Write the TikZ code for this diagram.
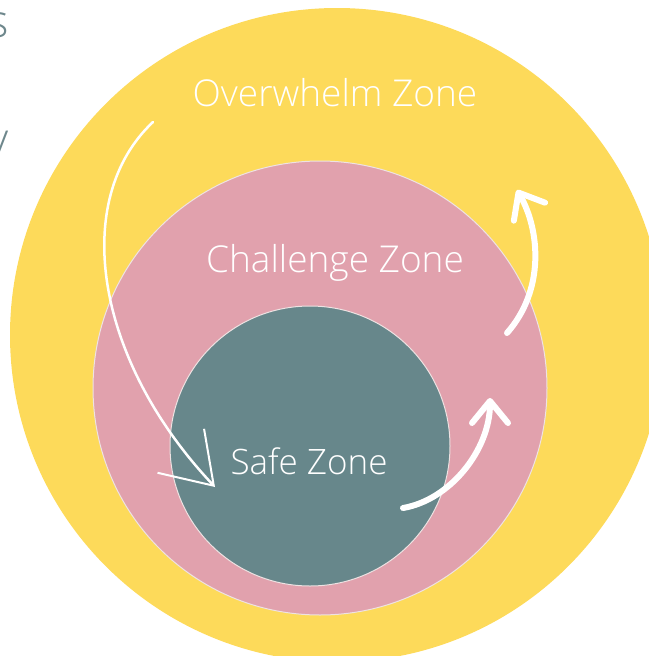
\documentclass[tikz,border=0pt]{standalone}
\usepackage{fontspec}
\setmainfont{Open Sans}[UprightFont=* Light]
\definecolor{overwhelm}{RGB}{253, 218, 90}
\definecolor{challenge}{RGB}{225, 161, 173}
\definecolor{safe}{RGB}{103, 135, 139}
\definecolor{rim}{RGB}{238, 226, 226}
\definecolor{sidetext}{RGB}{110, 135, 140}
\usetikzlibrary{arrows.meta, positioning}

\begin{document}
\begin{tikzpicture}[x=1pt, y=-1pt,
    zone/.style={circle, draw=rim, line width=1pt, inner sep=0pt},
    zonelabel/.style={text=white, font=\fontsize{37}{40}\selectfont},
    sidelabel/.style={text=sidetext, font=\fontsize{46}{50}\selectfont, inner sep=0pt},
    sketch/.style={white, line width=2.5pt, line cap=round,
        -{Straight Barb[length=48pt, width=64pt, line width=2pt]}},
    push/.style={white, line width=6pt, line cap=round,
        -{Straight Barb[length=22pt, width=36pt, line width=6pt, round]}}]
    \useasboundingbox (0,0) rectangle (648,656);

    % the three zones, outside in
    \node[zone, draw=none, fill=overwhelm, minimum size=654pt] (overwhelm) at (337,335) {};
    \node[zone, fill=challenge, minimum size=454pt] (challenge) at (320,388) {};
    \node[zone, fill=safe, minimum size=280pt] (safe) at (310,446) {};

    % zone names
    \node[zonelabel] (overwhelmtext) at (335,93) {Overwhelm Zone};
    \node[zonelabel] (challengetext) at (335,263) {Challenge Zone};
    \node[zonelabel, font=\fontsize{35}{40}\selectfont] (safetext) at (309,461) {Safe Zone};

    % text running off the left edge
    \node[sidelabel, anchor=base east] (sidea) at (9,37) {s};
    \node[sidelabel, anchor=base east] (sideb) at (9,155) {y};

    % arrow ends
    \coordinate (fallstart) at (153,122);
    \coordinate (fallend) at (215,487);
    \coordinate (stepstart) at (403,508);
    \coordinate (stepend) at (490,398);
    \coordinate (growstart) at (507,333);
    \coordinate (growend) at (517,190);

    % falling into the safe zone
    \draw[sketch] (fallstart) .. controls (70,200) and (95,360) .. (fallend);

    % stepping out
    \draw[push] (stepstart) .. controls (450,500) and (490,450) .. (stepend);
    \draw[push] (growstart) .. controls (545,290) and (540,230) .. (growend);
\end{tikzpicture}
\end{document}
